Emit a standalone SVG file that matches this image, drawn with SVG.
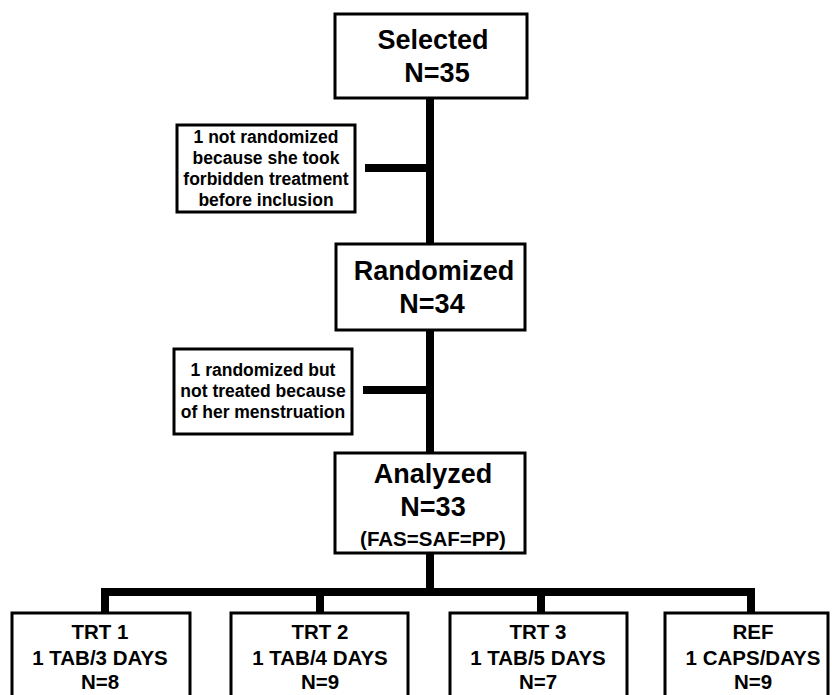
<svg xmlns="http://www.w3.org/2000/svg" width="832" height="695" viewBox="0 0 832 695">
<style>
.box{fill:#fff;stroke:#000;stroke-width:3}
.t{font-family:"Liberation Sans",Arial,sans-serif;font-weight:bold;text-anchor:middle;fill:#000}
.h{font-size:27px}
.s{font-size:17.5px}
.m{font-size:20.5px}
.c{stroke:#000;stroke-width:8;fill:none}
</style>
<rect width="832" height="695" fill="#fff"/>
<g id="connectors">
<line class="c" x1="430" y1="98" x2="430" y2="596"/>
<line class="c" x1="365" y1="168" x2="430" y2="168"/>
<line class="c" x1="363" y1="390" x2="430" y2="390"/>
<polyline class="c" points="105,613 105,592 751,592 751,613"/>
<line class="c" x1="320" y1="592" x2="320" y2="613"/>
<line class="c" x1="541" y1="592" x2="541" y2="613"/>
</g>
<g id="selected">
<rect class="box" x="335" y="14" width="192" height="84"/>
<text class="t h" x="433" y="49">Selected</text>
<text class="t h" x="437" y="82">N=35</text>
</g>
<g id="excluded1">
<rect class="box" x="177" y="125" width="178" height="87"/>
<text class="t s" x="266" y="143">1 not randomized</text>
<text class="t s" x="266" y="164">because she took</text>
<text class="t s" x="266" y="185">forbidden treatment</text>
<text class="t s" x="266" y="206">before inclusion</text>
</g>
<g id="randomized">
<rect class="box" x="336" y="244" width="189" height="86"/>
<text class="t h" x="434" y="280">Randomized</text>
<text class="t h" x="432" y="313">N=34</text>
</g>
<g id="excluded2">
<rect class="box" x="174" y="349" width="178" height="85"/>
<text class="t s" x="263" y="376">1 randomized but</text>
<text class="t s" x="263" y="397">not treated because</text>
<text class="t s" x="263" y="418">of her menstruation</text>
</g>
<g id="analyzed">
<rect class="box" x="335" y="453" width="190" height="100"/>
<text class="t h" x="433" y="483">Analyzed</text>
<text class="t h" x="433" y="516">N=33</text>
<text class="t m" x="433" y="546">(FAS=SAF=PP)</text>
</g>
<g id="trt1">
<rect class="box" x="12" y="613" width="178" height="100"/>
<text class="t m" x="100" y="639">TRT 1</text>
<text class="t m" x="100" y="665">1 TAB/3 DAYS</text>
<text class="t m" x="100" y="689">N=8</text>
</g>
<g id="trt2">
<rect class="box" x="231" y="613" width="177" height="100"/>
<text class="t m" x="320" y="639">TRT 2</text>
<text class="t m" x="320" y="665">1 TAB/4 DAYS</text>
<text class="t m" x="320" y="689">N=9</text>
</g>
<g id="trt3">
<rect class="box" x="450" y="613" width="177" height="100"/>
<text class="t m" x="538" y="639">TRT 3</text>
<text class="t m" x="538" y="665">1 TAB/5 DAYS</text>
<text class="t m" x="538" y="689">N=7</text>
</g>
<g id="ref">
<rect class="box" x="665" y="613" width="163" height="100"/>
<text class="t m" x="753" y="639">REF</text>
<text class="t m" x="753" y="665">1 CAPS/DAYS</text>
<text class="t m" x="753" y="689">N=9</text>
</g>
</svg>
